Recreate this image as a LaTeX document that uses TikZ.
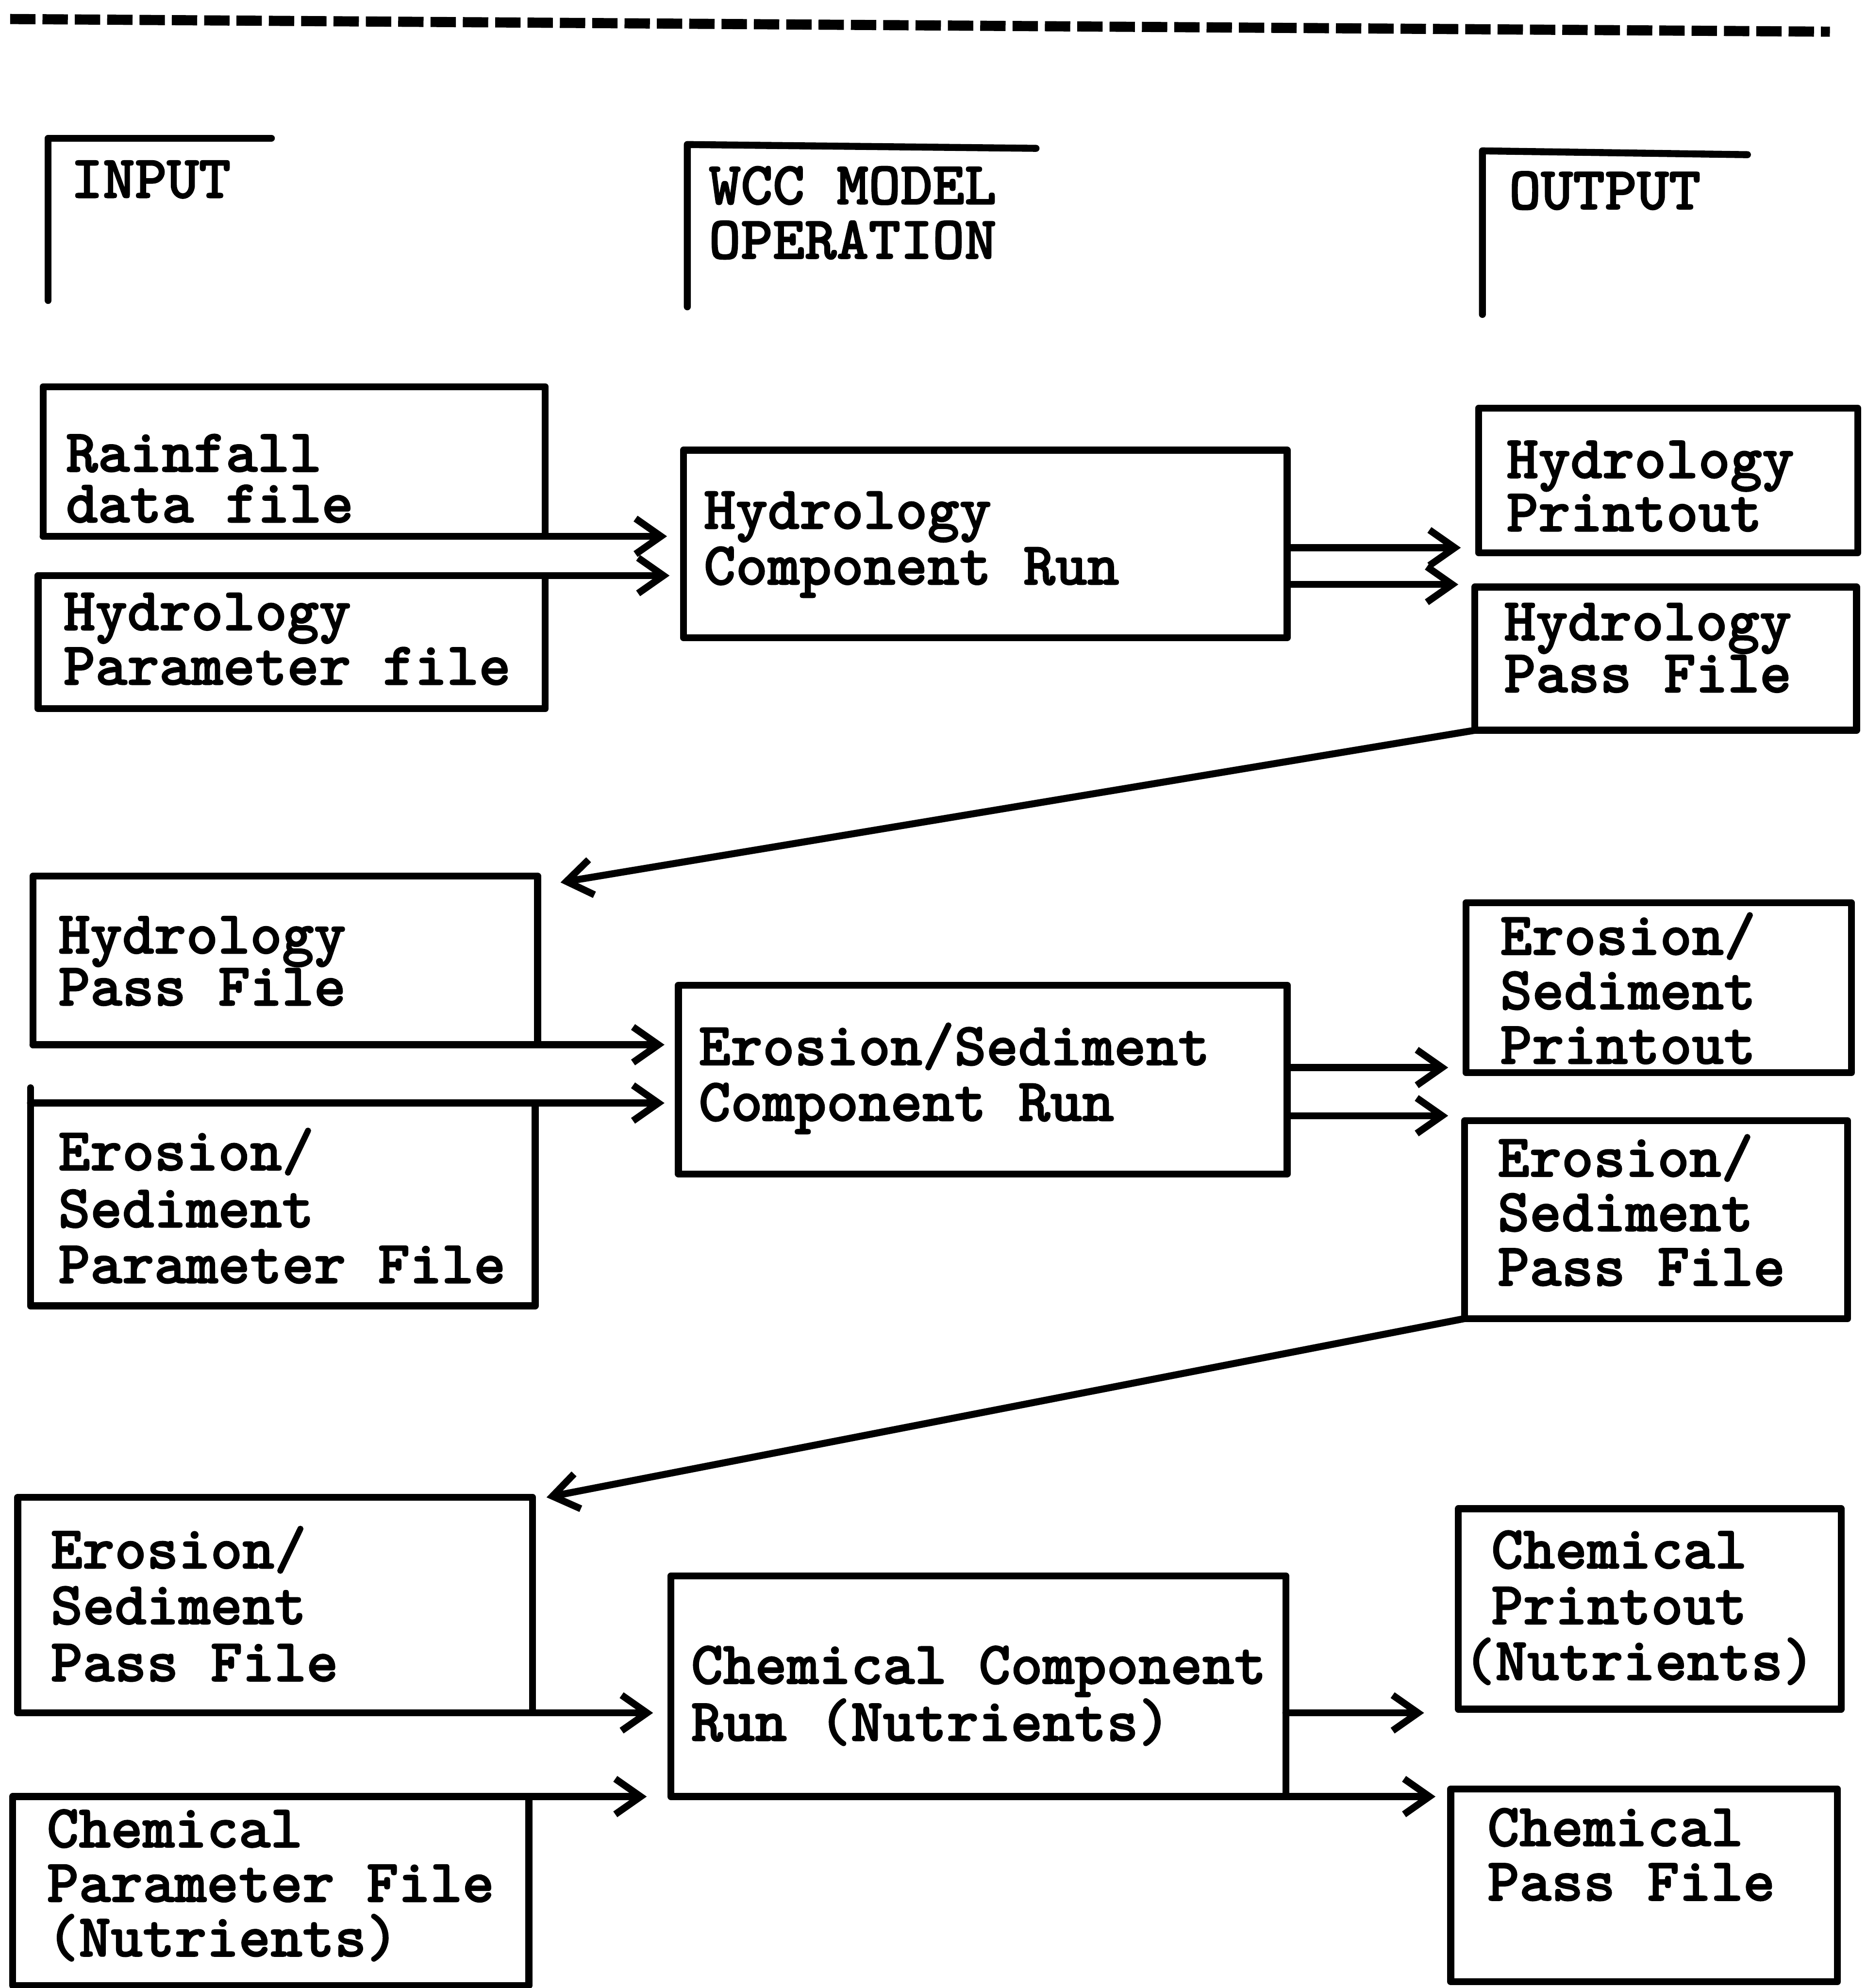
\documentclass[tikz,border=0pt]{standalone}
\usepackage{fontspec}
\usetikzlibrary{arrows.meta,calc,fit}
% heavy typewriter face: Latin Modern Mono bold, slightly emboldened
\newfontfamily\typewriter{lmmonolt10-bold.otf}[FakeBold=1.6]
\tikzset{
  pen/.style={line width=5.5pt, line cap=round, line join=round},
  box/.style={pen, draw, inner sep=0pt, outer sep=0pt},
  txt/.style={anchor=base west, inner sep=0pt, outer sep=0pt,
    font=\typewriter\fontsize{48}{50}\selectfont},
  flow/.style={pen, -{Straight Barb[length=20pt,width=28pt]}},
}
\begin{document}
\begin{tikzpicture}[x=1pt,y=-1pt]
% page
\fill[white] (0,0) rectangle (1472,1568);
\useasboundingbox (0,0) rectangle (1472,1568);

% typed rule across the top
\draw[line width=8pt, dash pattern=on 20pt off 5.5pt] (8,15) -- (1443,25);

% column headings
\draw[pen] (38,237) -- (38,109) -- (214,109);
\draw[pen] (542,242) -- (542,114) -- (817,117);
\draw[pen] (1169,248) -- (1169,119) -- (1378,122);
\node[txt] (hdIn)  at (56,156)  {INPUT};
\node[txt] (hdOpA) at (559,161) {WCC MODEL};
\node[txt] (hdOpB) at (559,204) {OPERATION};
\node[txt] (hdOut) at (1190,165) {OUTPUT};

% ---- hydrology stage ----
\node[box, fit={(34,305)(430,423)}]    (rain)   {};
\node[box, fit={(30,454)(430,559)}]    (hpar)   {};
\node[box, fit={(539,355)(1015,503)}]  (hrun)   {};
\node[box, fit={(1166,322)(1465,436)}] (hprint) {};
\node[box, fit={(1163,463)(1464,576)}] (hpass)  {};

\node[txt] (rainA)   at (52,372)   {Rainfall};
\node[txt] (rainB)   at (52,412)   {data file};
\node[txt] (hparA)   at (50,497)   {Hydrology};
\node[txt] (hparB)   at (50,540)   {Parameter file};
\node[txt] (hrunA)   at (555,417)  {Hydrology};
\node[txt] (hrunB)   at (555,461)  {Component Run};
\node[txt] (hprintA) at (1188,377) {Hydrology};
\node[txt] (hprintB) at (1188,419) {Printout};
\node[txt] (hpassA)  at (1186,505) {Hydrology};
\node[txt] (hpassB)  at (1186,546) {Pass File};

% ---- erosion / sediment stage ----
\node[box, fit={(26,691)(424,824)}]     (hpassin) {};
\node[box, fit={(24,870)(422,1030)}]    (espar)   {};
\node[box, fit={(535,777)(1015,926)}]   (erun)    {};
\node[box, fit={(1156,712)(1460,846)}]  (eprint)  {};
\node[box, fit={(1155,884)(1457,1040)}] (epass)   {};

\node[txt] (hpassinA) at (46,752)   {Hydrology};
\node[txt] (hpassinB) at (46,793)   {Pass File};
\node[txt] (esparA)   at (46,923)   {Erosion/};
\node[txt] (esparB)   at (46,968)   {Sediment};
\node[txt] (esparC)   at (46,1012)  {Parameter File};
\node[txt] (erunA)    at (551,840)  {Erosion/Sediment};
\node[txt] (erunB)    at (551,884)  {Component Run};
\node[txt] (eprintA)  at (1183,753) {Erosion/};
\node[txt] (eprintB)  at (1183,796) {Sediment};
\node[txt] (eprintC)  at (1183,839) {Printout};
\node[txt] (epassA)   at (1181,928) {Erosion/};
\node[txt] (epassB)   at (1181,971) {Sediment};
\node[txt] (epassC)   at (1181,1014){Pass File};

% ---- chemical stage ----
\node[box, fit={(14,1181)(420,1351)}]   (epassin) {};
\node[box, fit={(10,1417)(417,1566)}]   (cpar)    {};
\node[box, fit={(529,1243)(1014,1417)}] (crun)    {};
\node[box, fit={(1150,1190)(1452,1348)}](cprint)  {};
\node[box, fit={(1144,1411)(1449,1563)}](cpass)   {};

\node[txt] (epassinA) at (40,1237)   {Erosion/};
\node[txt] (epassinB) at (40,1281)   {Sediment};
\node[txt] (epassinC) at (40,1326)   {Pass File};
\node[txt] (cparA)    at (37,1457)   {Chemical};
\node[txt] (cparB)    at (37,1500)   {Parameter File};
\node[txt] (cparC)    at (37,1543)   {(Nutrients)};
\node[txt] (crunA)    at (545,1328)  {Chemical Component};
\node[txt] (crunB)    at (545,1373)  {Run (Nutrients)};
\node[txt] (cprintA)  at (1176,1237) {Chemical};
\node[txt] (cprintB)  at (1176,1281) {Printout};
\node[txt] (cprintC)  at (1154,1325) {(Nutrients)};
\node[txt] (cpassA)   at (1173,1456) {Chemical};
\node[txt] (cpassB)   at (1173,1499) {Pass File};

% ---- connectors ----
\coordinate (h1) at ($(hprint.south west)+(0,-4)$);
\coordinate (h2) at ($(hpass.north west)+(0,-2)$);
\coordinate (e1) at ($(eprint.south west)+(0,-4)$);
\coordinate (e2) at ($(epass.north west)+(0,-4)$);
\coordinate (c1) at ($(cprint.south west)+(0,3)$);
\coordinate (c0) at ($(cpar.north west)+(9,0)$);

% inputs into the model runs
\draw[flow, shorten >=13pt] (rain.south west) -- (rain.south west -| hrun.west);
\draw[flow, shorten >=11pt] (hpar.north west) -- (hpar.north west -| hrun.west);
\draw[flow, shorten >=11pt] (hpassin.south west) -- (hpassin.south west -| erun.west);
\draw[pen] (espar.north west) -- ++(0,-12);
\draw[flow, shorten >=11pt] (espar.north west) -- (espar.north west -| erun.west);
\draw[flow, shorten >=14pt] (epassin.south west) -- (epassin.south west -| crun.west);
\draw[flow, shorten >=19pt] (c0) -- (c0 -| crun.west);

% outputs of the model runs
\draw[flow, shorten >=14pt] (hrun.east |- h1) -- (h1);
\draw[flow, shorten >=13pt] (hrun.east |- h2) -- (h2);
\draw[flow, shorten >=14pt] (erun.east |- e1) -- (e1);
\draw[flow, shorten >=13pt] (erun.east |- e2) -- (e2);
\draw[flow, shorten >=27pt] (crun.east |- c1) -- (c1);
\draw[flow, shorten >=12pt] (crun.south east) -- (crun.south east -| cpass.west);

% pass files carried to the next stage
\draw[flow] (hpass.south west) -- ($(hpassin.north east)+(18,5)$);
\draw[flow] (epass.south west) -- ($(epassin.north east)+(11,0)$);
\end{tikzpicture}
\end{document}
